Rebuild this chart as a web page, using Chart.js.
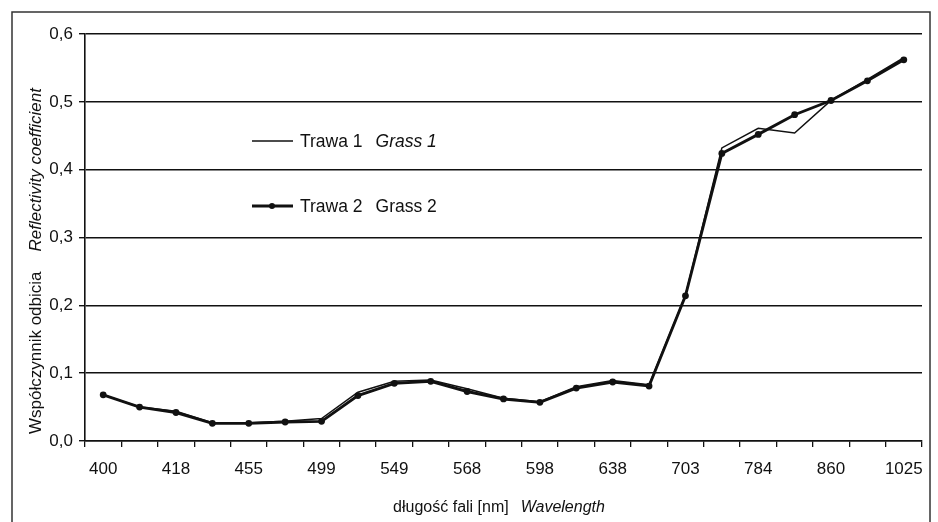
<!DOCTYPE html>
<html>
<head>
<meta charset="utf-8">
<script src="https://cdn.jsdelivr.net/npm/chart.js@4"></script>
<style>
  html, body { margin: 0; padding: 0; background: #fff; }
  #wrap { width: 938px; height: 522px; }
</style>
</head>
<body>
<div id="wrap"><canvas id="reflectCanvas" width="938" height="522"></canvas></div>
<script>
//Datos de entrada

const categories = ["400", "", "418", "", "455", "", "499", "", "549", "", "568", "",
  "598", "", "638", "", "703", "", "784", "", "860", "", "1025"];

const grass1 = [0.068, 0.050, 0.044, 0.027, 0.027, 0.029, 0.033, 0.072, 0.088, 0.090, 0.077, 0.063,
  0.058, 0.080, 0.089, 0.083, 0.215, 0.432, 0.461, 0.454, 0.502, 0.533, 0.565];

const grass2 = [0.068, 0.050, 0.042, 0.026, 0.026, 0.028, 0.029, 0.067, 0.085, 0.088, 0.073, 0.062,
  0.057, 0.078, 0.087, 0.081, 0.214, 0.424, 0.452, 0.481, 0.502, 0.531, 0.562];

const legendItems = [
  { normal: "Trawa 1", other: "Grass 1", italic: true, dot: false },
  { normal: "Trawa 2", other: "Grass 2", italic: false, dot: true },
];

const yTitle = ["Współczynnik odbicia", "Reflectivity coefficient"];
const xTitle = ["długość fali [nm]", "Wavelength"];

const FONT = "'Liberation Sans', Arial, sans-serif";
const INK = "#111";

// rysuje ramke, tytuly osi i legende
const decorations = {
  id: "decorations",
  afterDraw(chart) {
    const ctx = chart.ctx;
    ctx.save();

    ctx.strokeStyle = "#333";
    ctx.lineWidth = 1.5;
    ctx.strokeRect(12, 12, 918, 520);

    ctx.fillStyle = INK;
    ctx.textBaseline = "middle";

    // tytul osi Y
    ctx.save();
    ctx.translate(36, 261);
    ctx.rotate(-Math.PI / 2);
    ctx.font = "17px " + FONT;
    const w1 = ctx.measureText(yTitle[0]).width;
    ctx.font = "italic 17px " + FONT;
    const w2 = ctx.measureText(yTitle[1]).width;
    const gap = 20;
    let start = -(w1 + gap + w2) / 2;
    ctx.textAlign = "left";
    ctx.font = "17px " + FONT;
    ctx.fillText(yTitle[0], start, 0);
    ctx.font = "italic 17px " + FONT;
    ctx.fillText(yTitle[1], start + w1 + gap, 0);
    ctx.restore();

    // tytul osi X
    ctx.font = "16px " + FONT;
    const x1 = ctx.measureText(xTitle[0]).width;
    ctx.font = "italic 16px " + FONT;
    const x2 = ctx.measureText(xTitle[1]).width;
    let xs = 499 - (x1 + 12 + x2) / 2;
    ctx.textAlign = "left";
    ctx.font = "16px " + FONT;
    ctx.fillText(xTitle[0], xs, 508);
    ctx.font = "italic 16px " + FONT;
    ctx.fillText(xTitle[1], xs + x1 + 12, 508);

    // legenda
    const rows = [141, 206];
    legendItems.forEach((item, i) => {
      const y = rows[i];
      ctx.strokeStyle = INK;
      ctx.lineWidth = item.dot ? 2.8 : 1.4;
      ctx.beginPath();
      ctx.moveTo(252, y);
      ctx.lineTo(293, y);
      ctx.stroke();
      if (item.dot) {
        ctx.beginPath();
        ctx.arc(272, y, 3, 0, Math.PI * 2);
        ctx.fill();
      }
      ctx.font = "17.5px " + FONT;
      ctx.fillText(item.normal, 300, y + 1);
      const tw = ctx.measureText(item.normal).width;
      ctx.font = (item.italic ? "italic " : "") + "17.5px " + FONT;
      ctx.fillText(item.other, 300 + tw + 13, y + 1);
    });

    ctx.restore();
  },
};

const data = {
  labels: categories,
  datasets: [
    {
      label: "Trawa 1 Grass 1",
      data: grass1,
      borderColor: INK,
      borderWidth: 1.5,
      pointRadius: 0,
      tension: 0,
    },
    {
      label: "Trawa 2 Grass 2",
      data: grass2,
      borderColor: INK,
      backgroundColor: INK,
      borderWidth: 2.9,
      pointRadius: 3.4,
      pointBorderWidth: 0,
      pointBackgroundColor: INK,
      tension: 0,
    },
  ],
};

const config = {
  type: "line",
  data: data,
  plugins: [decorations],
  options: {
    responsive: false,
    animation: false,
    layout: { padding: { top: 34, right: 16, left: 0, bottom: 0 } },
    plugins: {
      legend: { display: false },
      tooltip: { enabled: false },
    },
    scales: {
      x: {
        offset: true,
        afterFit: (scale) => { scale.height = 81; },
        grid: {
          offset: true,
          drawOnChartArea: false,
          drawTicks: true,
          tickLength: 6,
          color: INK,
          lineWidth: 1.3,
        },
        border: { color: INK, width: 1.6 },
        ticks: {
          autoSkip: false,
          maxRotation: 0,
          padding: 12,
          color: INK,
          font: { family: FONT, size: 17 },
        },
      },
      y: {
        min: 0,
        max: 0.6,
        afterFit: (scale) => { scale.width = 85; },
        grid: {
          color: INK,
          lineWidth: 1.4,
          tickLength: 6,
        },
        border: { color: INK, width: 1.6 },
        ticks: {
          stepSize: 0.1,
          padding: 6,
          color: INK,
          font: { family: FONT, size: 17 },
          callback: (value) => value.toFixed(1).replace(".", ","),
        },
      },
    },
  },
};

const ctx = document.getElementById("reflectCanvas").getContext("2d");
const reflectChart = new Chart(ctx, config);
</script>
</body>
</html>
